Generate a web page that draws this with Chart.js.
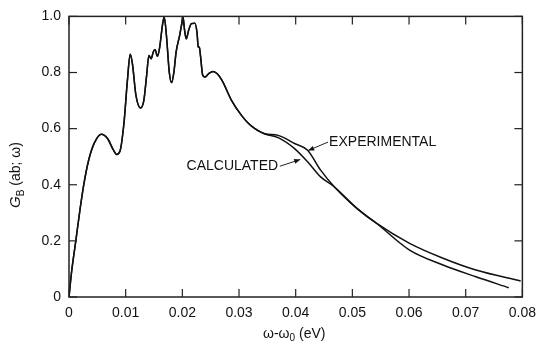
<!DOCTYPE html>
<html>
<head>
<meta charset="utf-8">
<script src="https://cdn.jsdelivr.net/npm/chart.js@4"></script>
<style>
  html,body{margin:0;padding:0;background:#fff;}
  #wrap{width:544px;height:343px;position:relative;}
</style>
</head>
<body>
<div id="wrap"><canvas id="c" width="544" height="343"></canvas></div>
<script>
// ---- data ----
const commonOmega = [0,0.0004,0.0012,0.002,0.0026,0.0035,0.0045,0.0057,0.0068,0.0078,0.0084,0.009,0.0097,0.0103,0.0108,0.0112,0.0118,0.0126,0.0132,0.0137,0.0141,0.0145,0.0149,0.0152,0.0156,0.016,0.0165,0.0168,0.0172,0.0177,0.0181,0.0185,0.0189,0.0195,0.0199,0.0201,0.0204,0.0207,0.0211,0.0216,0.0222,0.0226,0.0228,0.023,0.0232,0.0236,0.024,0.0247,0.0254,0.0262,0.027,0.0287,0.0304,0.0316,0.0328,0.0345];
const commonG = [0,0.08,0.2,0.32,0.4,0.49,0.55,0.58,0.565,0.525,0.508,0.52,0.62,0.77,0.865,0.83,0.72,0.674,0.70,0.79,0.861,0.849,0.875,0.881,0.858,0.89,0.97,0.998,0.93,0.80,0.764,0.80,0.873,0.93,0.974,1.0,0.95,0.92,0.95,0.974,0.976,0.94,0.891,0.89,0.86,0.79,0.784,0.797,0.804,0.795,0.772,0.70,0.648,0.62,0.60,0.582];

const expMidOmega = [0.0369,0.0398,0.0421,0.0444,0.0468];
const expMidG     = [0.576,0.547,0.523,0.452,0.393];
const calcMidOmega = [0.0369,0.0398,0.0421,0.0444,0.0468];
const calcMidG     = [0.568,0.529,0.482,0.428,0.393];

const sharedOmega = [0.0508,0.0543];
const sharedG     = [0.316,0.262];

const expTailOmega = [0.0601,0.066,0.0718,0.0776];
const expTailG     = [0.167,0.114,0.072,0.033];
const calcTailOmega = [0.0601,0.066,0.0718,0.0797];
const calcTailG     = [0.191,0.138,0.096,0.057];

const xTicks = [0,0.01,0.02,0.03,0.04,0.05,0.06,0.07,0.08];
const yTicks = [0,0.2,0.4,0.6,0.8,1.0];

function pts(xs, ys){ return xs.map((x,i)=>({x:x,y:ys[i]})); }
const expData = pts(commonOmega.concat(expMidOmega, sharedOmega, expTailOmega),
                    commonG.concat(expMidG, sharedG, expTailG));
const calcData = pts(commonOmega.concat(calcMidOmega, sharedOmega, calcTailOmega),
                     commonG.concat(calcMidG, sharedG, calcTailG));

const FONT = 'Liberation Sans, Arial, sans-serif';

const frame = {
  id:'frame',
  afterDraw(chart){
    const {ctx, chartArea:a, scales:{x,y}} = chart;
    ctx.save();
    ctx.strokeStyle='#222'; ctx.lineWidth=1.5;
    ctx.strokeRect(a.left, a.top, a.right-a.left, a.bottom-a.top);
    ctx.lineWidth=1.2;
    xTicks.forEach(v=>{
      const px = x.getPixelForValue(v);
      ctx.beginPath(); ctx.moveTo(px,a.bottom); ctx.lineTo(px,a.bottom-8); ctx.stroke();
      ctx.beginPath(); ctx.moveTo(px,a.top); ctx.lineTo(px,a.top+8); ctx.stroke();
    });
    yTicks.forEach(v=>{
      const py = y.getPixelForValue(v);
      ctx.beginPath(); ctx.moveTo(a.left,py); ctx.lineTo(a.left+8,py); ctx.stroke();
      ctx.beginPath(); ctx.moveTo(a.right,py); ctx.lineTo(a.right-8,py); ctx.stroke();
    });
    // axis titles
    ctx.fillStyle='#111';
    ctx.textBaseline='alphabetic';
    // x title: ω-ω0 (eV)
    ctx.font = '14px '+FONT;
    let tx = 263, ty = 338;
    ctx.textAlign='left';
    ctx.fillText('ω-ω', tx, ty); tx += ctx.measureText('ω-ω').width;
    ctx.font = '10px '+FONT; ctx.fillText('0', tx, ty+3); tx += ctx.measureText('0').width;
    ctx.font = '14px '+FONT; ctx.fillText(' (eV)', tx, ty);
    // y title rotated
    ctx.save();
    ctx.translate(20, 208);
    ctx.rotate(-Math.PI/2);
    let ux = 0;
    ctx.font = 'italic 15px '+FONT; ctx.fillText('G', ux, 0); ux += ctx.measureText('G').width;
    ctx.font = '10px '+FONT; ctx.fillText('B', ux, 4); ux += ctx.measureText('B').width;
    ctx.font = '14px '+FONT; ctx.fillText(' (ab; ω)', ux, 0);
    ctx.restore();
    // annotations
    ctx.font = '14px '+FONT;
    ctx.textBaseline='middle';
    ctx.textAlign='left';
    ctx.fillText('EXPERIMENTAL', x.getPixelForValue(0.0459), y.getPixelForValue(0.552));
    ctx.textAlign='right';
    ctx.fillText('CALCULATED', x.getPixelForValue(0.0369), y.getPixelForValue(0.467));
    const arrow=(x0,y0,x1,y1)=>{
      ctx.beginPath(); ctx.moveTo(x0,y0); ctx.lineTo(x1,y1); ctx.lineWidth=1; ctx.stroke();
      const ang=Math.atan2(y1-y0,x1-x0), L=6, W=2.5;
      ctx.beginPath();
      ctx.moveTo(x1,y1);
      ctx.lineTo(x1-L*Math.cos(ang)+W*Math.sin(ang), y1-L*Math.sin(ang)-W*Math.cos(ang));
      ctx.lineTo(x1-L*Math.cos(ang)-W*Math.sin(ang), y1-L*Math.sin(ang)+W*Math.cos(ang));
      ctx.closePath(); ctx.fill();
    };
    arrow(x.getPixelForValue(0.0457), y.getPixelForValue(0.552), x.getPixelForValue(0.0422), y.getPixelForValue(0.522));
    arrow(x.getPixelForValue(0.0372), y.getPixelForValue(0.466), x.getPixelForValue(0.0408), y.getPixelForValue(0.49));
    ctx.restore();
  }
};

new Chart(document.getElementById('c'), {
  type:'line',
  data:{datasets:[
    {label:'Experimental', data:expData, borderColor:'#111', borderWidth:1.5, pointRadius:0, cubicInterpolationMode:'monotone', fill:false},
    {label:'Calculated', data:calcData, borderColor:'#111', borderWidth:1.5, pointRadius:0, cubicInterpolationMode:'monotone', fill:false}
  ]},
  options:{
    responsive:false, animation:false,
    layout:{padding:{top:16,right:17,left:0,bottom:0}},
    plugins:{legend:{display:false}, tooltip:{enabled:false}},
    scales:{
      x:{type:'linear', min:0, max:0.08,
        afterBuildTicks(s){ s.ticks = xTicks.map(v=>({value:v})); },
        afterFit(s){ s.height = 46; },
        grid:{display:false, drawTicks:false}, border:{display:false},
        ticks:{padding:8, color:'#111', font:{family:FONT, size:14},
          callback:v=> v===0?'0':v.toFixed(2), maxRotation:0, autoSkip:false}
      },
      y:{type:'linear', min:0, max:1.0,
        afterBuildTicks(s){ s.ticks = yTicks.map(v=>({value:v})); },
        afterFit(s){ s.width = 69; },
        grid:{display:false, drawTicks:false}, border:{display:false},
        ticks:{padding:8, color:'#111', font:{family:FONT, size:14},
          callback:v=> v===0?'0':v.toFixed(1)}
      }
    }
  },
  plugins:[frame]
});
</script>
</body>
</html>
